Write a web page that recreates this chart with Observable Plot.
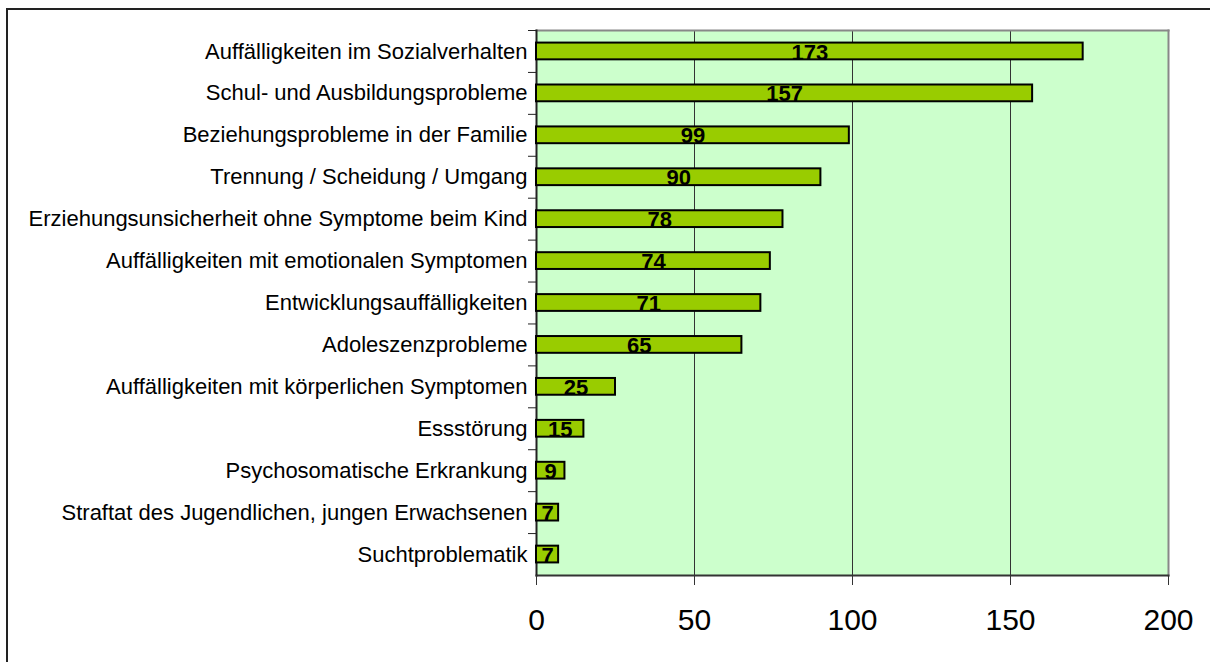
<!DOCTYPE html>
<html>
<head>
<meta charset="utf-8">
<script src="https://cdn.jsdelivr.net/npm/d3@7"></script>
<script src="https://cdn.jsdelivr.net/npm/@observablehq/plot@0.6"></script>
<style>
  body { margin: 0; background: #fff; overflow: hidden; }
  #wrap { position: relative; width: 1210px; height: 662px; }
  #border { position: absolute; left: 6px; top: 8px; width: 1220px; height: 700px; border: 2px solid #222; box-sizing: border-box; }
  #chart { position: absolute; left: 0; top: 0; }
</style>
</head>
<body>
<div id="wrap"><div id="border"></div><div id="chart"></div></div>
<script>
const categories = [
  "Auffälligkeiten im Sozialverhalten",
  "Schul- und Ausbildungsprobleme",
  "Beziehungsprobleme in der Familie",
  "Trennung / Scheidung / Umgang",
  "Erziehungsunsicherheit ohne Symptome beim Kind",
  "Auffälligkeiten mit emotionalen Symptomen",
  "Entwicklungsauffälligkeiten",
  "Adoleszenzprobleme",
  "Auffälligkeiten mit körperlichen Symptomen",
  "Essstörung",
  "Psychosomatische Erkrankung",
  "Straftat des Jugendlichen, jungen Erwachsenen",
  "Suchtproblematik"
];
const values = [173, 157, 99, 90, 78, 74, 71, 65, 25, 15, 9, 7, 7];
const xTicks = [0, 50, 100, 150, 200];
const gridTicks = [50, 100, 150];

const data = categories.map((c, i) => ({category: c, value: values[i]}));

const marginTop = 30, marginBottom = 87, height = 662;
const step = (height - marginTop - marginBottom) / categories.length;

const chart = Plot.plot({
  width: 1210,
  height: height,
  marginLeft: 536,
  marginRight: 42,
  marginTop: marginTop,
  marginBottom: marginBottom,
  style: {fontFamily: "Arial, 'Liberation Sans', sans-serif", background: "transparent", overflow: "visible"},
  x: {domain: [0, 200], label: null},
  y: {domain: categories, paddingInner: 0.6, paddingOuter: 0.3, round: false, label: null},
  marks: [
    Plot.frame({fill: "#CCFFCC"}),
    Plot.ruleX(gridTicks, {stroke: "#333", strokeWidth: 1}),
    Plot.frame({anchor: "top", stroke: "#888", strokeWidth: 2}),
    Plot.frame({anchor: "right", stroke: "#888", strokeWidth: 2}),
    Plot.frame({anchor: "bottom", stroke: "#333", strokeWidth: 2}),
    Plot.frame({anchor: "left", stroke: "#222", strokeWidth: 2}),
    Plot.barX(data, {x: "value", y: "category", fill: "#99CC00", stroke: "#000", strokeWidth: 2}),
    Plot.text(data, {x: d => d.value / 2, y: "category", text: d => String(d.value), fontSize: 22, fontWeight: "bold", fill: "#000", dy: 1}),
    Plot.axisY({tickSize: 0, tickPadding: 9, fontSize: 22, fill: "#000"}),
    Plot.axisY({tickSize: 8, text: null, stroke: "#222", dy: -step / 2}),
    Plot.axisX({ticks: xTicks, tickSize: 10, tickPadding: 23, fontSize: 30, stroke: "#333", fill: "#000"})
  ]
});
document.getElementById("chart").appendChild(chart);
</script>
</body>
</html>
